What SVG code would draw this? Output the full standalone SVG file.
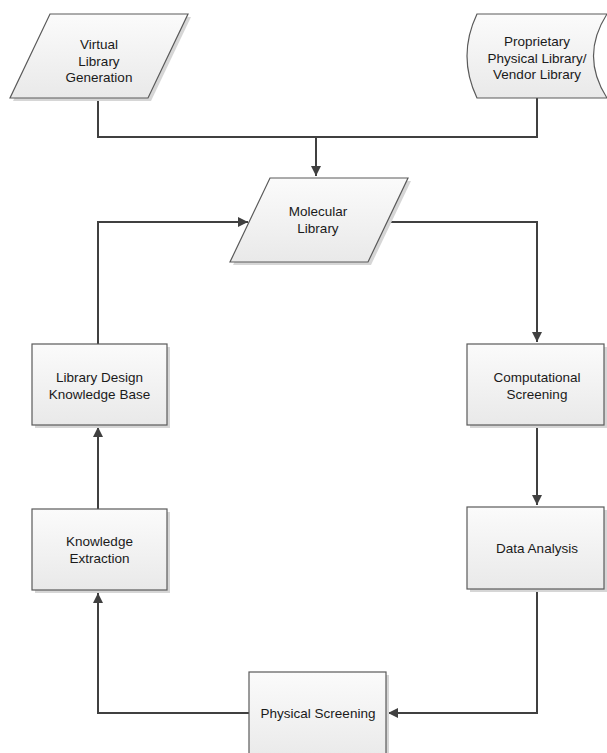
<svg xmlns="http://www.w3.org/2000/svg" width="607" height="753" viewBox="0 0 607 753">
<style>
.n{fill:url(#g);stroke:#5a5a5a;stroke-width:1.2}
.s{fill:#d6d6d6;stroke:none}
.t{font-family:"Liberation Sans",Arial,sans-serif;font-size:13.5px;fill:#1a1a1a;text-anchor:middle}
.c{fill:none;stroke:#404040;stroke-width:2}
</style>
<defs>
<linearGradient id="g" x1="0" y1="0" x2="0" y2="1">
<stop offset="0" stop-color="#fbfbfb"/>
<stop offset="1" stop-color="#e9e9e9"/>
</linearGradient>
<marker id="a" viewBox="0 0 10 10" refX="10" refY="5" markerWidth="5" markerHeight="5" orient="auto" markerUnits="strokeWidth">
<path d="M0,0 L10,5 L0,10 z" fill="#404040"/>
</marker>
</defs>
<g id="connectors">
<path class="c" d="M98,98 V137 H537 V98"/>
<path class="c" d="M316,137 V176" marker-end="url(#a)"/>
<path class="c" d="M368,222 H537 V342" marker-end="url(#a)"/>
<path class="c" d="M537,426 V505" marker-end="url(#a)"/>
<path class="c" d="M537,590 V713 H388" marker-end="url(#a)"/>
<path class="c" d="M249,713 H98 V593" marker-end="url(#a)"/>
<path class="c" d="M98,509 V427" marker-end="url(#a)"/>
<path class="c" d="M98,344 V222 H248" marker-end="url(#a)"/>
</g>
<g id="virtual">
<path class="s" d="M53,17 L191,17 L151,101 L13,101 z"/>
<path class="n" d="M50,14 L188,14 L148,98 L10,98 z"/>
<text class="t" x="99" y="49">Virtual</text>
<text class="t" x="99" y="65.5">Library</text>
<text class="t" x="99" y="82">Generation</text>
</g>
<g id="proprietary">
<path class="n" d="M477,14 L607,14 Q580,56 607,98 L477,98 Q457,56 477,14 z"/>
<text class="t" x="537" y="46">Proprietary</text>
<text class="t" x="537" y="62.5">Physical Library/</text>
<text class="t" x="537" y="79">Vendor Library</text>
</g>
<g id="molecular">
<path class="s" d="M273,181 L411,181 L371,265 L233,265 z"/>
<path class="n" d="M270,178 L408,178 L368,262 L230,262 z"/>
<text class="t" x="318" y="216">Molecular</text>
<text class="t" x="318" y="233">Library</text>
</g>
<g id="kb">
<rect class="s" x="35" y="347" width="135" height="81"/>
<rect class="n" x="32" y="344" width="135" height="81"/>
<text class="t" x="99.5" y="382">Library Design</text>
<text class="t" x="99.5" y="399">Knowledge Base</text>
</g>
<g id="comp">
<rect class="s" x="470" y="347" width="137" height="81"/>
<rect class="n" x="467" y="344" width="137" height="81"/>
<text class="t" x="537" y="382">Computational</text>
<text class="t" x="537" y="399">Screening</text>
</g>
<g id="ke">
<rect class="s" x="35" y="512" width="135" height="81"/>
<rect class="n" x="32" y="509" width="135" height="81"/>
<text class="t" x="99.5" y="546">Knowledge</text>
<text class="t" x="99.5" y="563">Extraction</text>
</g>
<g id="da">
<rect class="s" x="470" y="510" width="137" height="82"/>
<rect class="n" x="467" y="507" width="137" height="82"/>
<text class="t" x="537" y="553">Data Analysis</text>
</g>
<g id="ps">
<rect class="s" x="252" y="675" width="137" height="90"/>
<rect class="n" x="249" y="672" width="137" height="90"/>
<text class="t" x="318" y="718">Physical Screening</text>
</g>
</svg>
